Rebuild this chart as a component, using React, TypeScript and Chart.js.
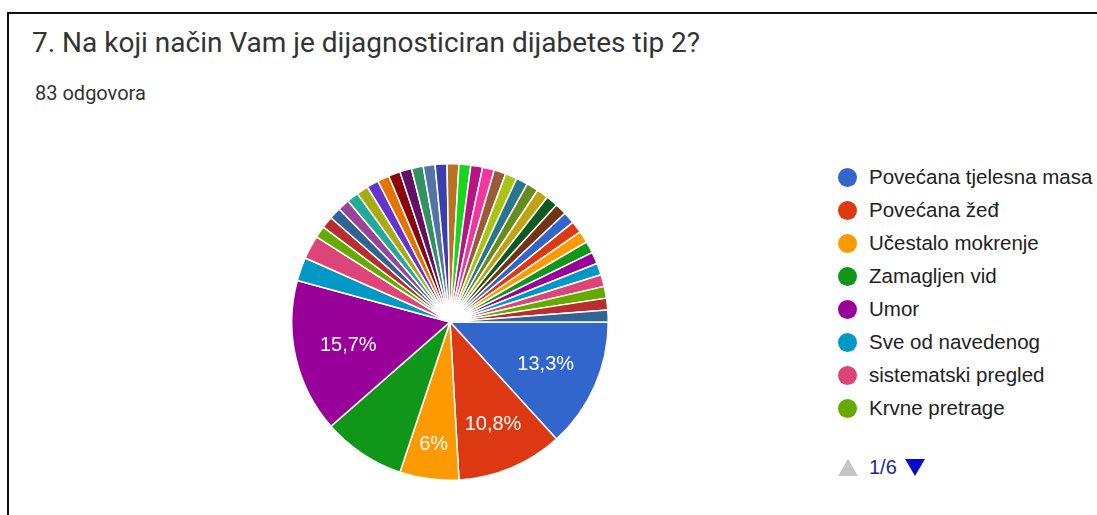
import React, { useEffect, useRef } from "react";
import { Chart, registerables } from "chart.js";

Chart.register(...registerables);

const title = "7. Na koji način Vam je dijagnosticiran dijabetes tip 2?";
const subtitle = "83 odgovora";

const categories = [
  "Povećana tjelesna masa",
  "Povećana žeđ",
  "Učestalo mokrenje",
  "Zamagljen vid",
  "Umor",
  "Sve od navedenog",
  "sistematski pregled",
  "Krvne pretrage",
  "Odgovor 9", "Odgovor 10", "Odgovor 11", "Odgovor 12", "Odgovor 13",
  "Odgovor 14", "Odgovor 15", "Odgovor 16", "Odgovor 17", "Odgovor 18",
  "Odgovor 19", "Odgovor 20", "Odgovor 21", "Odgovor 22", "Odgovor 23",
  "Odgovor 24", "Odgovor 25", "Odgovor 26", "Odgovor 27", "Odgovor 28",
  "Odgovor 29", "Odgovor 30", "Odgovor 31", "Odgovor 32", "Odgovor 33",
  "Odgovor 34", "Odgovor 35", "Odgovor 36", "Odgovor 37", "Odgovor 38",
  "Odgovor 39", "Odgovor 40", "Odgovor 41",
];

const values = [
  11, 9, 5, 7, 13, 2, 2,
  1, 1, 1, 1, 1, 1, 1, 1, 1, 1,
  1, 1, 1, 1, 1, 1, 1, 1, 1, 1,
  1, 1, 1, 1, 1, 1, 1, 1, 1, 1,
  1, 1, 1, 1,
];

const colors = [
  "#3366cc", "#dc3912", "#ff9900", "#109618", "#990099", "#0099c6", "#dd4477",
  "#66aa00", "#b82e2e", "#316395", "#994499", "#22aa99", "#aaaa11", "#6633cc",
  "#e67300", "#8b0707", "#651067", "#329262", "#5574a6", "#3b3eac", "#b77322",
  "#16d620", "#b91383", "#f4359e", "#9c5935", "#a9c413", "#2a778d", "#668d1c",
  "#bea413", "#0c5922", "#743411",
  "#3366cc", "#dc3912", "#ff9900", "#109618", "#990099", "#0099c6", "#dd4477",
  "#66aa00", "#b82e2e", "#316395",
];

const labeledSlices = [0, 1, 2, 4];
const legendPageSize = 8;
const legendPageText = "1/6";

const LABEL_FONT = '"Liberation Sans", Arial, sans-serif';

function formatPct(v: number, total: number) {
  const p = Math.round((v / total) * 1000) / 10;
  const s = Number.isInteger(p) ? String(p) : p.toFixed(1);
  return s.replace(".", ",") + "%";
}

const sliceLabelPlugin = {
  id: "sliceLabels",
  afterDatasetsDraw(chart: any) {
    const ctx = chart.ctx;
    const meta = chart.getDatasetMeta(0);
    const data = chart.data.datasets[0].data as number[];
    const total = data.reduce((a: number, b: number) => a + b, 0);
    ctx.save();
    ctx.fillStyle = "#ffffff";
    ctx.font = `20px ${LABEL_FONT}`;
    ctx.textAlign = "center";
    ctx.textBaseline = "middle";
    labeledSlices.forEach((i) => {
      const arc = meta.data[i] as any;
      const { x, y, startAngle, endAngle, outerRadius } = arc.getProps(
        ["x", "y", "startAngle", "endAngle", "outerRadius"],
        true
      );
      const mid = (startAngle + endAngle) / 2;
      const deg = ((endAngle - startAngle) * 180) / Math.PI;
      const frac = 0.66 + Math.max(0, 48 - deg) * 0.0047;
      const r = outerRadius * frac;
      ctx.fillText(formatPct(data[i], total), x + Math.cos(mid) * r, y + Math.sin(mid) * r);
    });
    ctx.restore();
  },
};

export default function App() {
  const canvasRef = useRef<HTMLCanvasElement | null>(null);

  useEffect(() => {
    document.body.style.margin = "0";
    const canvas = canvasRef.current!;
    const chart = new Chart(canvas, {
      type: "pie",
      data: {
        labels: categories,
        datasets: [
          {
            data: values,
            backgroundColor: colors,
            borderColor: "#ffffff",
            borderWidth: 1.5,
            hoverOffset: 0,
            offset: 0,
          },
        ],
      },
      options: {
        responsive: false,
        animation: false,
        rotation: 90,
        layout: { padding: 0 },
        plugins: {
          legend: { display: false },
          tooltip: { enabled: false },
          title: { display: false },
        },
      },
      plugins: [sliceLabelPlugin],
    });
    return () => chart.destroy();
  }, []);

  const legendItems = categories.slice(0, legendPageSize);

  return (
    <div
      style={{
        position: "fixed",
        left: 0,
        top: 0,
        width: 1097,
        height: 515,
        background: "#ffffff",
        overflow: "hidden",
      }}
    >
      <div
        style={{
          position: "absolute",
          left: 7,
          top: 12,
          width: 1200,
          height: 700,
          border: "2px solid #111111",
          boxSizing: "border-box",
        }}
      />
      <div
        style={{
          position: "absolute",
          left: 32,
          top: 26,
          fontFamily: "Roboto, sans-serif",
          fontSize: 28,
          color: "#333333",
          whiteSpace: "nowrap",
          lineHeight: "34px",
        }}
      >
        {title}
      </div>
      <div
        style={{
          position: "absolute",
          left: 35,
          top: 81,
          fontFamily: "Roboto, sans-serif",
          fontSize: 20,
          color: "#333333",
          whiteSpace: "nowrap",
          lineHeight: "24px",
        }}
      >
        {subtitle}
      </div>
      <canvas
        ref={canvasRef}
        width={318}
        height={318}
        style={{ position: "absolute", left: 291, top: 163, width: 318, height: 318 }}
      />
      {legendItems.map((label, i) => (
        <div
          key={label}
          style={{
            position: "absolute",
            left: 838,
            top: 165 + i * 33,
            height: 24,
            display: "flex",
            alignItems: "center",
            whiteSpace: "nowrap",
            fontFamily: LABEL_FONT,
            fontSize: 20.5,
            color: "#222222",
          }}
        >
          <span
            style={{
              display: "inline-block",
              width: 19,
              height: 19,
              borderRadius: "50%",
              background: colors[i],
              marginRight: 12,
            }}
          />
          {label}
        </div>
      ))}
      <div
        style={{
          position: "absolute",
          left: 838,
          top: 455,
          height: 24,
          display: "flex",
          alignItems: "center",
          fontFamily: LABEL_FONT,
          fontSize: 20,
          color: "#1f1fa8",
          whiteSpace: "nowrap",
        }}
      >
        <span
          style={{
            width: 0,
            height: 0,
            borderLeft: "10px solid transparent",
            borderRight: "10px solid transparent",
            borderBottom: "17px solid #c4c4c4",
            marginRight: 11,
          }}
        />
        <span>{legendPageText}</span>
        <span
          style={{
            width: 0,
            height: 0,
            borderLeft: "10px solid transparent",
            borderRight: "10px solid transparent",
            borderTop: "17px solid #0a0acc",
            marginLeft: 8,
          }}
        />
      </div>
    </div>
  );
}
